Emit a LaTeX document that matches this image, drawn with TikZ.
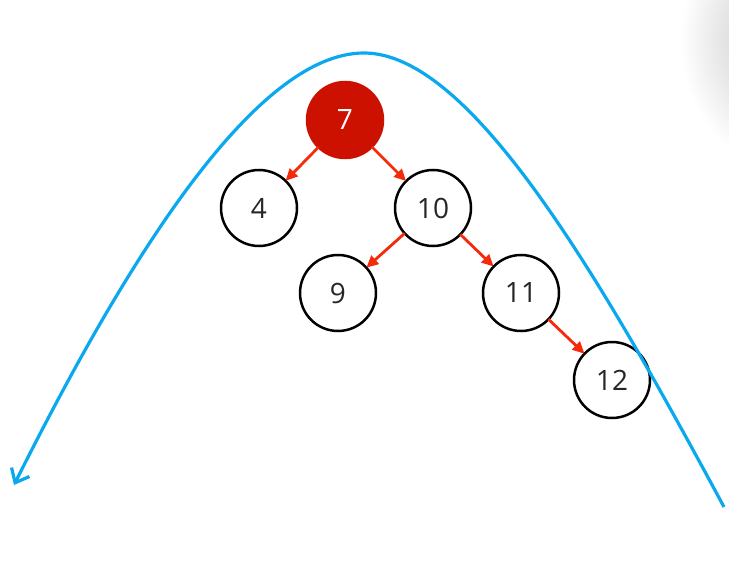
\documentclass[tikz,border=0pt]{standalone}
\usepackage{fontspec}
\setmainfont{Open Sans}
\usetikzlibrary{arrows.meta}
\definecolor{nodered}{HTML}{CC1100}
\definecolor{edgered}{HTML}{F52A0A}
\definecolor{curveblue}{HTML}{0AA8EE}
\definecolor{txt}{HTML}{262626}
\tikzset{
  bst/.style={circle,draw=black,line width=2.5pt,minimum size=76pt,inner sep=0pt,outer sep=0pt,
    font=\fontsize{28}{30}\selectfont,text=txt},
  rootnode/.style={bst,draw=nodered,fill=nodered,text=white},
  edge/.style={draw=edgered,line width=2.8pt,-{Triangle[length=12pt,width=11pt]}},
  walk/.style={draw=curveblue,line width=3.2pt,-{Straight Barb[length=12pt,width=20pt,line width=3.2pt]}}
}
\begin{document}
\begin{tikzpicture}[x=1pt,y=-1pt]
\useasboundingbox (0,0) rectangle (729,578);
\fill[white] (0,0) rectangle (729,578);
\begin{scope}
\clip (0,0) rectangle (729,578);
\shade[inner color=black!24,outer color=white] (780,40) ellipse (100 and 125);
\end{scope}
\node[rootnode] (n7) at (345,120) {7};
\node[bst] (n4) at (259,208) {4};
\node[bst] (n10) at (433,208) {10};
\node[bst] (n9) at (338,293) {9};
\node[bst] (n11) at (521,293) {11};
\node[bst] (n12) at (612,380) {12};
\draw[edge] (n7) -- (n4);
\draw[edge] (n7) -- (n10);
\draw[edge] (n10) -- (n9);
\draw[edge] (n10) -- (n11);
\draw[edge] (n11) -- (n12);
\coordinate (wstart) at (724,507);
\coordinate (wtop) at (364,53);
\coordinate (wend) at (14,485);
\draw[walk] (wstart) .. controls (596,269) and (469,53) .. (wtop)
  .. controls (255,53) and (126,261) .. (wend);
\end{tikzpicture}
\end{document}
